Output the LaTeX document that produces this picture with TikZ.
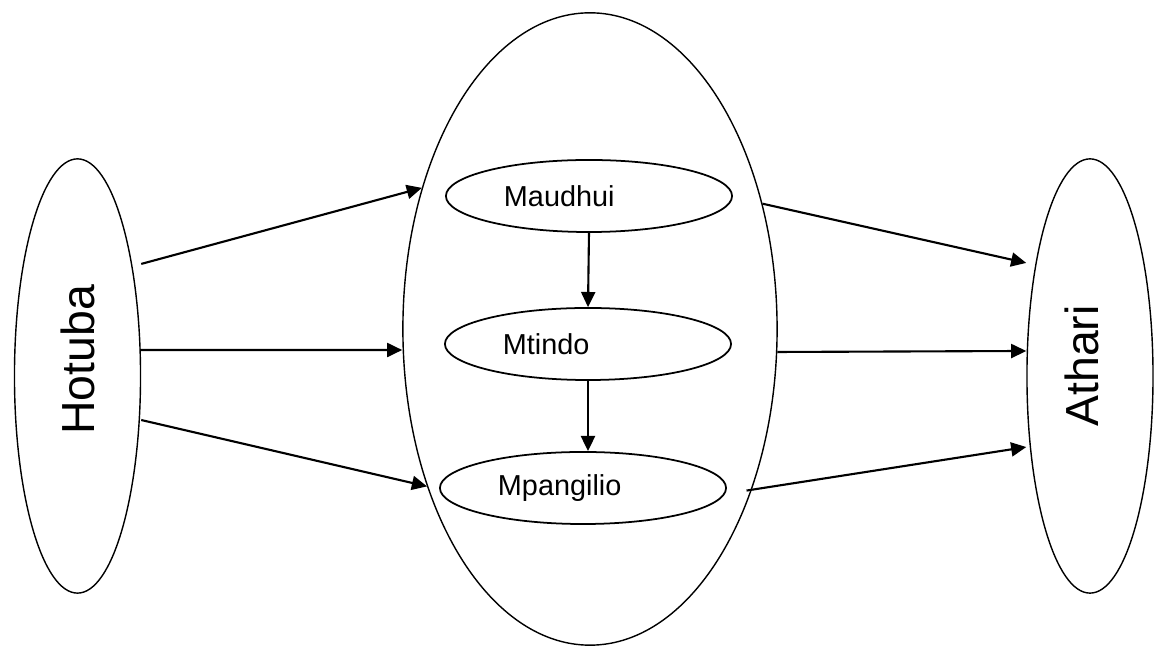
\documentclass[tikz,border=0pt]{standalone}
\usepackage{fontspec}
\setmainfont{Liberation Sans}
\usepackage{tikz}
\usetikzlibrary{shapes.geometric, arrows.meta}
\tikzstyle{arrow} = [line width=0.6pt,-{Triangle[length=4.3pt,width=4pt]}]
\tikzstyle{side} = [draw, ellipse, line width=0.4pt, inner sep=0pt, minimum width=1.26cm, minimum height=4.34cm, font=\fontsize{13.2}{15}\selectfont]
\tikzstyle{core} = [draw, ellipse, line width=0.4pt, inner sep=0pt, minimum width=3.74cm, minimum height=6.32cm]
\tikzstyle{part} = [draw, ellipse, line width=0.5pt, inner sep=0pt, minimum width=2.86cm, minimum height=0.72cm, text width=1.7cm, align=left, font=\fontsize{8.2}{10}\selectfont]

\begin{document}
\begin{tikzpicture}[x=0.01cm, y=-0.01cm]
	\useasboundingbox (0,0) rectangle (1159,646);
	\node[side] (hot) at (77.5,376) {\rotatebox{90}{\hspace{0.32cm}Hotuba}};
	\node[core] (mid) at (590,329) {};
	\node[side] (ath) at (1090,376) {\rotatebox{90}{\rule[-0.16cm]{0pt}{0.16cm}\hspace{0.2cm}Athari}};
	\node[part] (mau) at (589,196) {Maudhui};
	\node[part] (mti) at (588,344) {Mtindo};
	\node[part] (mpa) at (583,488) {Mpangilio};
	% into the core
	\draw[arrow] ([yshift=1.12cm]hot.east) -- (mid.140);
	\draw[arrow] ([yshift=0.26cm]hot.east) -- ([yshift=-0.21cm]mid.west);
	\draw[arrow] ([yshift=-0.44cm]hot.east) -- (mid.224);
	\draw[arrow] (mau.south) -- (mti.north);
	\draw[arrow] (mti.south) -- (mti.south |- mpa.north);
	% out of the core
	\draw[arrow] (mid.36) -- ([yshift=1.13cm]ath.west);
	\draw[arrow] (mid.-7) -- ([yshift=0.25cm]ath.west);
	\draw[arrow] ([xshift=-0.05cm]mid.-45) -- ([yshift=-0.71cm]ath.west);
\end{tikzpicture}
\end{document}
